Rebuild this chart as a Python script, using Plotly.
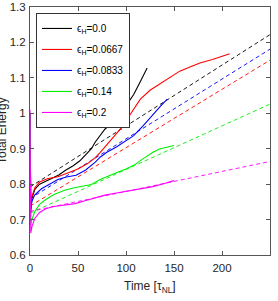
import plotly.graph_objects as go

labels = ["ϵ<sub>H</sub>=0.0", "ϵ<sub>H</sub>=0.0667", "ϵ<sub>H</sub>=0.0833",
          "ϵ<sub>H</sub>=0.14", "ϵ<sub>H</sub>=0.2"]
colors = ["#000000", "#ff0000", "#0000ff", "#00ee00", "#ff00ff"]

t_black = [0, 0.8, 2, 5, 10, 16, 22, 30, 37, 45, 52, 59, 64, 68, 73, 78, 86, 94, 101, 108, 115, 122]
e_black = [1.0, 0.72, 0.76, 0.785, 0.80, 0.808, 0.815, 0.826, 0.839, 0.852, 0.866, 0.885, 0.90, 0.919, 0.937, 0.955, 0.975, 0.997, 1.025, 1.053, 1.09, 1.128]

t_red = [0, 0.8, 2, 5, 10, 18, 29, 40, 50, 60, 68, 73, 80, 88, 94, 104, 115, 125, 135, 145, 156, 166, 177, 190, 200, 208]
e_red = [1.0, 0.74, 0.765, 0.79, 0.806, 0.815, 0.821, 0.832, 0.843, 0.858, 0.875, 0.889, 0.91, 0.935, 0.955, 0.995, 1.04, 1.065, 1.082, 1.10, 1.119, 1.13, 1.142, 1.152, 1.162, 1.168]

t_blue = [0, 0.8, 2, 5, 12, 20, 29, 38, 48, 58, 68, 73, 80, 90, 100, 108, 118, 128, 136, 143]
e_blue = [1.0, 0.73, 0.752, 0.77, 0.787, 0.80, 0.813, 0.82, 0.825, 0.84, 0.862, 0.876, 0.89, 0.905, 0.922, 0.937, 0.965, 0.997, 1.02, 1.04]

t_green = [0, 0.8, 2, 5, 10, 16, 25, 36, 45, 55, 64, 73, 80, 90, 100, 108, 118, 128, 135, 143, 150]
e_green = [1.0, 0.685, 0.70, 0.723, 0.743, 0.756, 0.771, 0.783, 0.789, 0.794, 0.799, 0.813, 0.82, 0.832, 0.843, 0.853, 0.872, 0.89, 0.899, 0.905, 0.909]

t_mag = [0, 0.8, 2, 5, 10, 16, 23, 35, 47, 60, 70, 78, 90, 100, 115, 128, 140, 150]
e_mag = [1.01, 0.662, 0.68, 0.703, 0.72, 0.73, 0.736, 0.741, 0.745, 0.755, 0.762, 0.769, 0.775, 0.78, 0.787, 0.793, 0.802, 0.81]

fit_t = [0, 250]
fit_black = [0.792, 1.222]
fit_red = [0.738, 1.150]
fit_blue = [0.759, 1.181]
fit_green = [0.718, 1.026]
fit_mag = [0.723, 0.864]

xticks = [0, 50, 100, 150, 200, 250]
yticks = [0.6, 0.7, 0.8, 0.9, 1.0, 1.1, 1.2, 1.3]
ytick_text = ["0.6", "0.7", "0.8", "0.9", "1", "1.1", "1.2", "1.3"]

solid = [(t_black, e_black), (t_red, e_red), (t_blue, e_blue), (t_green, e_green), (t_mag, e_mag)]
fits = [fit_black, fit_red, fit_blue, fit_green, fit_mag]

fig = go.Figure()
for i, f in enumerate(fits):
    fig.add_trace(go.Scatter(x=fit_t, y=f, mode="lines", showlegend=False, hoverinfo="skip",
                             line=dict(color=colors[i], width=0.9, dash="4px,3px")))
for i, (t, e) in enumerate(solid):
    fig.add_trace(go.Scatter(x=t, y=e, mode="lines", name=labels[i], legendgroup=str(i),
                             line=dict(color=colors[i], width=1.1)))

font = "Liberation Sans Narrow, Liberation Sans, Arial"
axis_common = dict(showgrid=False, zeroline=False, showline=True, mirror="ticks",
                   linecolor="#555555", linewidth=1, ticks="inside", ticklen=4,
                   tickcolor="#555555", automargin=False,
                   tickfont=dict(family=font, size=11.5, color="#262626"))
fig.update_layout(
    width=278, height=301,
    margin=dict(l=30, r=8, t=7, b=46),
    paper_bgcolor="white", plot_bgcolor="white",
    showlegend=True,
    legend=dict(x=0.025, y=0.976, xanchor="left", yanchor="top",
                bordercolor="#333333", borderwidth=1, bgcolor="white",
                font=dict(family=font, size=10, color="#000000"),
                tracegroupgap=2, itemwidth=30),
    xaxis=dict(range=[0, 250], tickvals=xticks, ticklabelstandoff=2, **axis_common),
    yaxis=dict(range=[0.6, 1.3], tickvals=yticks, ticktext=ytick_text, ticklabelstandoff=1, **axis_common),
    annotations=[
        dict(text="Total Energy", xref="paper", yref="paper", x=0, y=0.5, xshift=-19,
             textangle=-90, showarrow=False, xanchor="right", yanchor="middle",
             font=dict(family=font, size=12, color="#262626")),
        dict(text="Time [τ<sub>NL</sub>]", xref="paper", yref="paper", x=0.5, y=-0.13,
             showarrow=False, xanchor="center", yanchor="middle",
             font=dict(family=font, size=12, color="#262626")),
    ],
)
fig.write_html("out.html", config={"displayModeBar": False},
               post_script="document.body.style.margin='0';")
